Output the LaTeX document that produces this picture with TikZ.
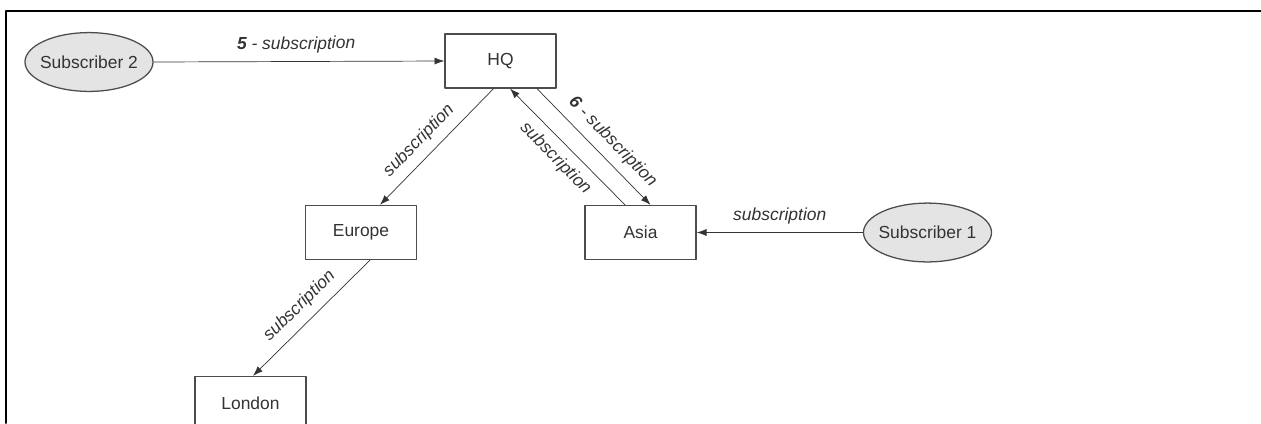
\documentclass[tikz,border=0pt]{standalone}
\usepackage{fontspec}
\setmainfont{Liberation Sans}
\usetikzlibrary{arrows.meta,calc,shapes.geometric}
\definecolor{txtgray}{RGB}{51,51,51}
\definecolor{subfill}{RGB}{228,228,228}
\tikzset{
	site/.style={draw=black!70, line width=0.9pt, minimum width=2.775cm, minimum height=1.35cm, inner sep=0pt, text=txtgray},
	subscriber/.style={ellipse, draw=black!70, fill=subfill, line width=0.9pt, minimum width=3.2cm, minimum height=1.47cm, inner xsep=-3.5pt, inner ysep=0pt, text=txtgray},
	feed/.style={->, draw=black!80, line width=0.5pt},
	lbl/.style={font=\fontsize{12.4}{14}\selectfont\itshape, text=txtgray, sloped, inner sep=4pt}
}
\begin{document}
\begin{tikzpicture}[x=0.025cm, y=-0.025cm, >={Latex[length=7pt,width=5pt]}, font=\fontsize{12.4}{14}\selectfont, line join=round, line cap=round]
				\useasboundingbox (0,0) rectangle (1261,423);
				\clip (0,0) rectangle (1261,423);
				\draw[line width=1.4pt] (6,423)--(6,11)--(1261,11);
				% Nodes
				\node[subscriber] (sub2) at (89,62) {Subscriber 2};
				\node[site] (HQ) at (500.5,61) {HQ};
				\node[site] (europe) at (361,232.5) {Europe};
				\node[site] (asia) at (640.5,232.5) {Asia};
				\node[subscriber] (sub1) at (927.5,232.5) {Subscriber 1};
				\node[site] (london) at (250.5,403.5) {London};
				% Subscriptions
				\draw[feed] (sub2.east)--(HQ.west) node[lbl,midway,above=2pt,xshift=-2pt]{\textbf{5} - subscription};
				\draw[feed] ($(HQ.south)+(-7,0)$)--($(europe.north)+(19,0)$) node[lbl,pos=0.55,above=2pt]{subscription};
				\draw[feed] ($(asia.north)+(-15.5,0)$)--($(HQ.south)+(9.5,0)$) node[lbl,midway,below=2pt]{subscription};
				\draw[feed] ($(HQ.south)+(36.5,0)$)--($(asia.north)+(10,0)$) node[lbl,pos=0.56,above=2pt]{\textbf{6} - subscription};
				\draw[feed] (sub1.west)--(asia.east) node[lbl,midway,above=2pt]{subscription};
				\draw[feed] ($(europe.south)+(9,0)$)--($(london.north)+(2.5,0)$) node[lbl,midway,above=2pt]{subscription};
\end{tikzpicture}
\end{document}
